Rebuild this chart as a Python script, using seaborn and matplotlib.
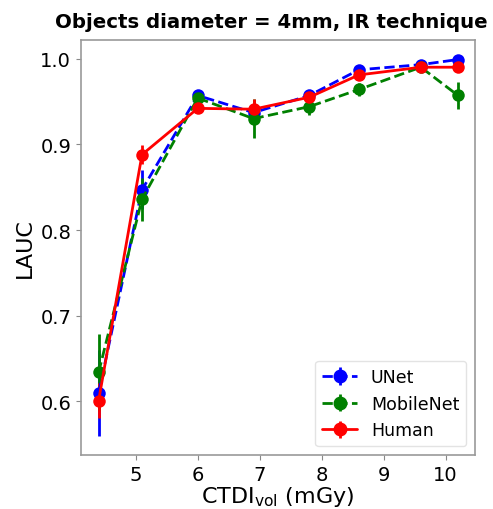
import numpy as np
import pandas as pd
import matplotlib
matplotlib.use("Agg")
import matplotlib.pyplot as plt
import seaborn as sns

ctdi = [4.4, 5.1, 6.0, 6.9, 7.8, 8.6, 9.6, 10.2]
unet = [0.610, 0.847, 0.957, 0.937, 0.957, 0.987, 0.993, 0.999]
unet_err = [0.050, 0.023, 0.005, 0.006, 0.005, 0.004, 0.004, 0.004]
mobilenet = [0.634, 0.836, 0.954, 0.930, 0.944, 0.964, 0.990, 0.957]
mobilenet_err = [0.045, 0.025, 0.006, 0.023, 0.010, 0.008, 0.005, 0.016]
human = [0.601, 0.888, 0.942, 0.941, 0.955, 0.981, 0.990, 0.990]
human_err = [0.020, 0.011, 0.004, 0.012, 0.005, 0.004, 0.004, 0.004]

series = ["UNet", "MobileNet", "Human"]
colors = {"UNet": "blue", "MobileNet": "green", "Human": "red"}
styles = {"UNet": "--", "MobileNet": "--", "Human": "-"}

df = pd.DataFrame({
    "CTDI": ctdi * 3,
    "LAUC": unet + mobilenet + human,
    "err": unet_err + mobilenet_err + human_err,
    "model": ["UNet"] * 8 + ["MobileNet"] * 8 + ["Human"] * 8,
})

sns.set_style("ticks")
plt.rcParams["font.family"] = ["DejaVu Sans"]
plt.rcParams["text.color"] = "black"
plt.rcParams["axes.labelcolor"] = "black"
plt.rcParams["xtick.color"] = "black"
plt.rcParams["ytick.color"] = "black"

fig = plt.figure(figsize=(4.93, 5.10), dpi=100)
ax = fig.add_axes([0.164, 0.106, 0.799, 0.814])

for name in series:
    sub = df[df["model"] == name]
    ax.errorbar(sub["CTDI"], sub["LAUC"], yerr=sub["err"], fmt="none",
                ecolor=colors[name], elinewidth=2, capsize=0, zorder=2)
    sns.lineplot(data=sub, x="CTDI", y="LAUC", ax=ax, color=colors[name],
                 linestyle=styles[name], marker="o", markersize=9,
                 markeredgewidth=0, linewidth=2, legend=False, zorder=3)
    ax.errorbar([np.nan], [np.nan], yerr=[np.nan], fmt="o" + styles[name],
                color=colors[name], markersize=9, linewidth=2, elinewidth=2,
                label=name)

ax.set_xlim(4.113, 10.47)
ax.set_ylim(0.5375, 1.022)
ax.set_xticks([5, 6, 7, 8, 9, 10])
ax.set_yticks([0.6, 0.7, 0.8, 0.9, 1.0])
ax.set_yticklabels(["0.6", "0.7", "0.8", "0.9", "1.0"])
ax.tick_params(labelsize=14, color="#888888", length=3.5, labelcolor="black")
for s in ax.spines.values():
    s.set_color("#999999")
    s.set_linewidth(1.2)

ax.set_xlabel(r"CTDI$_{\rm vol}$ (mGy)", fontsize=16, color="black", labelpad=0.5)
ax.set_ylabel("LAUC", fontsize=16, color="black")
ax.set_title("Objects diameter = 4mm, IR technique", fontsize=14.2,
             fontweight="bold", pad=9, color="black", x=0.483)
leg = ax.legend(loc="lower right", fontsize=12.5, frameon=True,
                handlelength=2.0, borderaxespad=0.5)
leg.get_frame().set_edgecolor("#dddddd")

fig.savefig("out.png", dpi=100)
